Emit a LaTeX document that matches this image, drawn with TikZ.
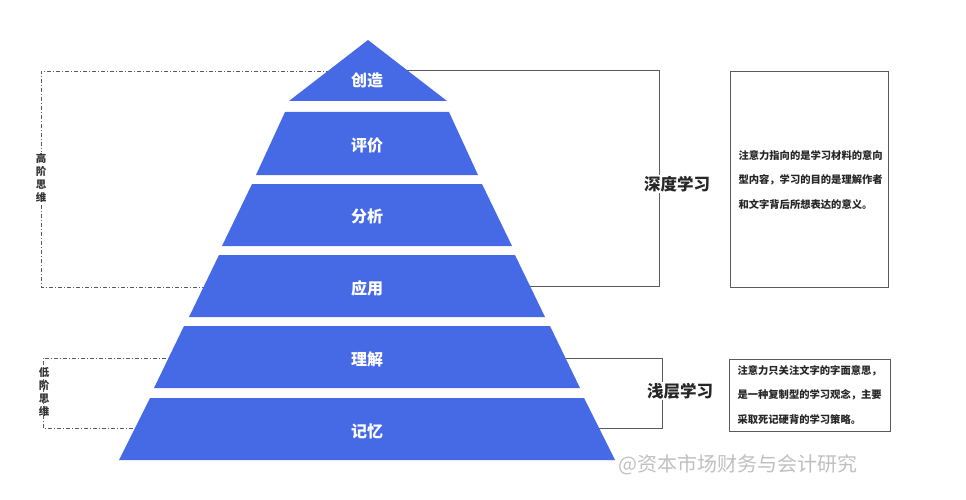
\documentclass[tikz,border=0pt]{standalone}
\usepackage{fontspec}
\setmainfont{Noto Sans CJK SC}
\definecolor{pyr}{RGB}{70,105,230}
\definecolor{ln}{RGB}{90,90,90}
\tikzset{layer/.style={fill=pyr,draw=none},
 lab/.style={text=white,font=\bfseries\fontsize{16}{16}\selectfont},
 title/.style={fill=white,inner sep=1pt,text=black!85,font=\bfseries\fontsize{16.5}{17}\selectfont},
 desc/.style={align=left,font=\bfseries\fontsize{10.3}{24.5}\selectfont,text=black!85,anchor=west},
 vlab/.style={fill=white,inner sep=1pt,align=center,font=\bfseries\fontsize{10.5}{13}\selectfont,text=black!80},
 brk/.style={draw=ln,line width=0.8pt},
 dd/.style={draw=ln,line width=0.7pt,dash pattern=on 4pt off 2pt on 1pt off 2pt}}
\begin{document}
\begin{tikzpicture}[x=1pt,y=-1pt]
\useasboundingbox (0,0) rectangle (966,500);
% left dash-dot brackets
\coordinate (h1) at (330,71); \coordinate (h2) at (41,71); \coordinate (h3) at (41,287); \coordinate (h4) at (210,287);
\draw[dd] (h1) -- (h2) -- (h3) -- (h4);
\node[vlab] (hi) at (41,178) {高\\阶\\思\\维};
\coordinate (l1) at (175,358); \coordinate (l2) at (43,358); \coordinate (l3) at (43,428); \coordinate (l4) at (140,428);
\draw[dd] (l1) -- (l2) -- (l3) -- (l4);
\node[vlab,fill=none] (lo) at (44,392) {低\\阶\\思\\维};
% right brackets
\coordinate (d1) at (400,70); \coordinate (d2) at (659,70); \coordinate (d3) at (659,286); \coordinate (d4) at (520,286);
\draw[brk] (d1) -- (d2) -- (d3) -- (d4);
\coordinate (s1) at (550,358); \coordinate (s2) at (662,358); \coordinate (s3) at (662,428); \coordinate (s4) at (590,428);
\draw[brk] (s1) -- (s2) -- (s3) -- (s4);
\node[title] (deep) at (677,184) {深度学习};
\node[title] (shal) at (680,391) {浅层学习};
% description boxes
\node[draw=ln,line width=0.8pt,minimum width=158pt,minimum height=216pt] (db) at (809,179) {};
\node[desc] (dt) at (735,180) {注意力指向的是学习材料的意向\\型内容，学习的目的是理解作者\\和文字背后所想表达的意义。};
\node[draw=ln,line width=0.8pt,minimum width=161pt,minimum height=72pt] (sb) at (809.5,395) {};
\node[desc] (st) at (734,395) {注意力只关注文字的字面意思，\\是一种复制型的学习观念，主要\\采取死记硬背的学习策略。};
% pyramid
\fill[layer] (368,40) -- (447,101) -- (289,101) -- cycle;
\fill[layer] (285,112) -- (449,112) -- (478,175) -- (256,175) -- cycle;
\fill[layer] (252,184) -- (482,184) -- (512,246) -- (222,246) -- cycle;
\fill[layer] (219,255) -- (515,255) -- (545,317) -- (189,317) -- cycle;
\fill[layer] (184,326) -- (550,326) -- (580,388) -- (154,388) -- cycle;
\fill[layer] (150,398) -- (584,398) -- (615,460) -- (119,460) -- cycle;
\node[lab] (c1) at (367,80) {创造};
\node[lab] (c2) at (367,145) {评价};
\node[lab] (c3) at (367,216) {分析};
\node[lab] (c4) at (367,288) {应用};
\node[lab] (c5) at (367,359) {理解};
\node[lab] (c6) at (367,431) {记忆};
\node[text=black!25,font=\fontsize{20}{20}\selectfont,anchor=west] (wm) at (615,465) {@资本市场财务与会计研究};
\end{tikzpicture}
\end{document}
